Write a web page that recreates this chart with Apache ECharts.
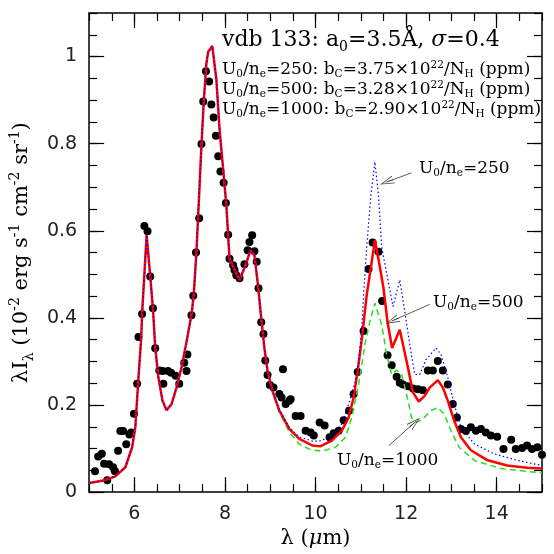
<!DOCTYPE html>
<html>
<head>
<meta charset="utf-8">
<script src="https://cdn.jsdelivr.net/npm/echarts@6/dist/echarts.min.js"></script>
<style>
  html, body { margin: 0; padding: 0; background: #fff; }
  #chart { width: 554px; height: 554px; }
</style>
</head>
<body>
<div id="chart"></div>
<script>
// observed points (wavelength in micron, intensity)
var obsX = [5.13,5.20,5.28,5.33,5.40,5.44,5.53,5.57,5.64,5.69,5.75,5.82,5.89,5.93,5.99,6.06,6.09,6.17,6.22,6.29,
  6.35,6.41,6.46,6.55,6.62,6.64,6.74,6.81,6.91,6.99,7.10,7.15,7.17,7.26,7.30,7.36,7.43,7.48,7.52,7.58,
  7.65,7.70,7.75,7.80,7.85,7.90,7.97,8.02,8.07,8.10,8.18,8.21,8.25,8.32,8.43,8.50,8.54,8.60,8.65,8.70,
  8.74,8.80,8.85,8.89,8.94,8.99,9.07,9.20,9.25,9.28,9.34,9.42,9.45,9.56,9.67,9.78,9.89,9.96,10.09,10.20,
  10.31,10.40,10.51,10.62,10.74,10.84,10.93,11.06,11.17,11.26,11.39,11.47,11.59,11.68,11.79,11.86,11.93,12.04,12.15,12.26,
  12.37,12.48,12.59,12.70,12.81,12.92,13.03,13.12,13.21,13.32,13.43,13.54,13.65,13.76,13.87,14.01,14.15,14.32,14.42,14.56,
  14.67,14.78,14.90,15.00];
var obsY = [0.048,0.082,0.088,0.065,0.027,0.064,0.057,0.048,0.095,0.140,0.140,0.110,0.132,0.137,0.180,0.249,0.356,0.409,0.611,0.599,
  0.495,0.422,0.330,0.279,0.278,0.249,0.278,0.274,0.267,0.249,0.297,0.278,0.316,0.406,0.451,0.550,0.629,0.799,0.897,0.966,
  0.943,0.890,0.860,0.818,0.771,0.736,0.710,0.664,0.591,0.536,0.521,0.510,0.498,0.491,0.523,0.555,0.574,0.590,0.553,0.529,
  0.468,0.390,0.363,0.302,0.269,0.246,0.240,0.225,0.217,0.282,0.202,0.210,0.213,0.175,0.175,0.141,0.137,0.130,0.160,0.153,
  0.126,0.135,0.141,0.165,0.187,0.225,0.276,0.370,0.512,0.573,0.552,0.439,0.314,0.291,0.265,0.251,0.247,0.243,0.238,0.236,
  0.234,0.279,0.279,0.301,0.279,0.247,0.202,0.171,0.145,0.140,0.149,0.141,0.145,0.137,0.130,0.127,0.099,0.120,0.099,0.101,
  0.107,0.099,0.103,0.086];

// model U0/ne=500 (red)
var m500X = [5.00,5.29,5.58,5.80,5.95,6.02,6.09,6.15,6.17,6.27,6.35,6.41,6.46,6.53,6.62,6.71,6.82,6.93,7.04,7.14,
  7.26,7.31,7.37,7.41,7.48,7.53,7.59,7.63,7.72,7.81,7.88,7.96,8.03,8.10,8.32,8.47,8.56,8.65,8.72,8.80,
  8.87,8.94,9.05,9.20,9.42,9.64,9.93,10.10,10.36,10.58,10.73,10.84,10.93,11.02,11.13,11.24,11.31,11.40,11.50,11.59,
  11.69,11.86,12.04,12.15,12.28,12.41,12.52,12.70,12.81,12.92,13.06,13.21,13.43,13.80,14.23,14.67,15.00];
var m500Y = [0.021,0.026,0.036,0.057,0.103,0.149,0.263,0.354,0.410,0.590,0.495,0.420,0.331,0.263,0.210,0.188,0.202,0.240,0.286,0.339,
  0.407,0.453,0.552,0.640,0.795,0.894,0.985,1.011,1.024,0.947,0.833,0.741,0.658,0.536,0.487,0.525,0.555,0.544,0.483,0.400,
  0.331,0.278,0.232,0.187,0.145,0.122,0.107,0.105,0.118,0.141,0.171,0.217,0.278,0.350,0.453,0.529,0.578,0.529,0.468,0.390,
  0.331,0.373,0.286,0.229,0.208,0.221,0.240,0.257,0.240,0.210,0.164,0.126,0.096,0.073,0.061,0.056,0.054];

// model U0/ne=250 (blue dotted)
var m250X = [5.00,5.29,5.58,5.80,5.95,6.02,6.09,6.15,6.17,6.27,6.35,6.41,6.46,6.53,6.62,6.71,6.82,6.93,7.04,7.14,
  7.26,7.31,7.37,7.41,7.48,7.53,7.59,7.63,7.72,7.81,7.88,7.96,8.03,8.10,8.32,8.47,8.56,8.65,8.72,8.80,
  8.87,8.94,9.05,9.20,9.42,9.64,9.93,10.07,10.30,10.58,10.73,10.88,10.95,11.02,11.06,11.13,11.22,11.31,11.39,11.46,
  11.59,11.71,11.86,11.97,12.08,12.19,12.30,12.44,12.66,12.77,12.92,13.06,13.21,13.50,13.94,14.45,15.00];
var m250Y = [0.021,0.026,0.036,0.057,0.103,0.149,0.263,0.354,0.410,0.590,0.495,0.420,0.331,0.263,0.210,0.188,0.202,0.240,0.286,0.339,
  0.407,0.453,0.552,0.640,0.795,0.894,0.985,1.011,1.024,0.947,0.833,0.741,0.658,0.536,0.487,0.525,0.555,0.544,0.483,0.400,
  0.331,0.278,0.233,0.190,0.148,0.127,0.117,0.117,0.125,0.156,0.202,0.255,0.300,0.377,0.453,0.563,0.680,0.758,0.680,0.563,
  0.491,0.426,0.487,0.415,0.339,0.270,0.270,0.304,0.331,0.316,0.263,0.202,0.149,0.111,0.088,0.073,0.061];

// model U0/ne=1000 (green dashed)
var m1000X = [5.00,5.29,5.58,5.80,5.95,6.02,6.09,6.15,6.17,6.27,6.35,6.41,6.46,6.53,6.62,6.71,6.82,6.93,7.04,7.14,
  7.26,7.31,7.37,7.41,7.48,7.53,7.59,7.63,7.72,7.81,7.88,7.96,8.03,8.10,8.32,8.47,8.56,8.65,8.72,8.80,
  8.87,8.94,9.05,9.20,9.42,9.64,9.90,10.15,10.44,10.66,10.80,10.95,11.09,11.20,11.31,11.46,11.57,11.68,11.79,11.90,
  12.01,12.12,12.23,12.37,12.55,12.70,12.84,12.99,13.17,13.50,14.09,15.00];
var m1000Y = [0.021,0.026,0.036,0.057,0.103,0.149,0.263,0.354,0.410,0.590,0.495,0.420,0.331,0.263,0.210,0.188,0.202,0.240,0.286,0.339,
  0.407,0.453,0.552,0.640,0.795,0.894,0.985,1.011,1.024,0.947,0.833,0.741,0.658,0.536,0.487,0.525,0.555,0.544,0.483,0.400,
  0.331,0.278,0.230,0.183,0.138,0.110,0.097,0.094,0.103,0.126,0.171,0.247,0.339,0.392,0.434,0.384,0.316,0.270,0.280,0.270,
  0.225,0.171,0.160,0.168,0.187,0.194,0.179,0.141,0.103,0.073,0.054,0.044];

// arrows: [fromX, fromY, toX, toY]
var arrow250 = [12.12, 0.733, 11.57, 0.712];
var arrow500 = [12.52, 0.431, 11.69, 0.393];
var arrow1000 = [11.62, 0.107, 12.19, 0.160];

var xMajor = [6, 8, 10, 12, 14];
var yMajor = [0, 0.2, 0.4, 0.6, 0.8, 1];

function pairs(xs, ys) {
  return xs.map(function (x, i) { return [x, ys[i]]; });
}

var serif = 'DejaVu Serif';
var sans = 'DejaVu Sans';
var annRich = {
  n: { fontFamily: serif, fontSize: 17, color: '#000', lineHeight: 20 },
  s: { fontFamily: serif, fontSize: 10.5, color: '#000', lineHeight: 20, verticalAlign: 'bottom' },
  p: { fontFamily: serif, fontSize: 10.5, color: '#000', lineHeight: 20, verticalAlign: 'top' }
};
var titleRich = {
  n: { fontFamily: serif, fontSize: 22, color: '#000', lineHeight: 28 },
  s: { fontFamily: serif, fontSize: 14, color: '#000', lineHeight: 28, verticalAlign: 'bottom' },
  i: { fontFamily: serif, fontSize: 22, color: '#000', lineHeight: 28, fontStyle: 'italic' }
};
var axRich = {
  n: { fontFamily: serif, fontSize: 21, color: '#000', lineHeight: 28 },
  s: { fontFamily: serif, fontSize: 14, color: '#000', lineHeight: 28, verticalAlign: 'bottom' },
  p: { fontFamily: serif, fontSize: 14, color: '#000', lineHeight: 28, verticalAlign: 'top' },
  i: { fontFamily: serif, fontSize: 21, color: '#000', lineHeight: 28, fontStyle: 'italic' }
};

// open arrowhead, tip at the top of the symbol box
var arrowHead = 'path://M5,0 L10,16 L9,16 L5,2.5 L5.5,16 L4.5,16 L5,2.5 L1,16 L0,16 Z';

function arrowLine(a) {
  return [{ coord: [a[0], a[1]] }, { coord: [a[2], a[3]] }];
}

var myChart = echarts.init(document.getElementById('chart'));
var tickLine = { color: '#000', width: 1.2 };
var frame = { show: true, onZero: false, lineStyle: { color: '#000', width: 1.5 } };
var noLine = { show: false, onZero: false };
var option = {
  backgroundColor: '#fff',
  animation: false,
  grid: { left: 85, right: 12, top: 13, bottom: 59 },
  xAxis: [
    {
      type: 'value', min: 5, max: 15, position: 'bottom',
      axisLine: frame,
      axisTick: { inside: true, length: 15, customValues: xMajor, lineStyle: tickLine },
      axisLabel: { customValues: xMajor, fontFamily: sans, fontSize: 19, color: '#222', margin: 12 },
      splitLine: { show: false },
      name: '{n|λ (}{i|μ}{n|m)}', nameLocation: 'middle', nameGap: 32,
      nameTextStyle: { rich: axRich }
    },
    {
      type: 'value', min: 5, max: 15, interval: 0.5, position: 'bottom',
      axisLine: noLine,
      axisTick: { inside: true, length: 8, lineStyle: tickLine },
      axisLabel: { show: false }, splitLine: { show: false }
    },
    {
      type: 'value', min: 5, max: 15, position: 'top',
      axisLine: frame,
      axisTick: { inside: true, length: 15, customValues: xMajor, lineStyle: tickLine },
      axisLabel: { show: false }, splitLine: { show: false }
    },
    {
      type: 'value', min: 5, max: 15, interval: 0.5, position: 'top',
      axisLine: noLine,
      axisTick: { inside: true, length: 8, lineStyle: tickLine },
      axisLabel: { show: false }, splitLine: { show: false }
    }
  ],
  yAxis: [
    {
      type: 'value', min: 0, max: 1.1, position: 'left',
      axisLine: frame,
      axisTick: { inside: true, length: 15, customValues: yMajor, lineStyle: tickLine },
      axisLabel: { customValues: yMajor, fontFamily: sans, fontSize: 19, color: '#222', margin: 12 },
      splitLine: { show: false },
      name: '{n|λI}{s|λ}{n| (10}{p|-2}{n| erg s}{p|-1}{n| cm}{p|-2}{n| sr}{p|-1}{n|)}',
      nameLocation: 'middle', nameGap: 49, nameRotate: 90,
      nameTextStyle: { rich: axRich }
    },
    {
      type: 'value', min: 0, max: 1.1, interval: 0.05, position: 'left',
      axisLine: noLine,
      axisTick: { inside: true, length: 8, lineStyle: tickLine },
      axisLabel: { show: false }, splitLine: { show: false }
    },
    {
      type: 'value', min: 0, max: 1.1, position: 'right',
      axisLine: frame,
      axisTick: { inside: true, length: 15, customValues: yMajor, lineStyle: tickLine },
      axisLabel: { show: false }, splitLine: { show: false }
    },
    {
      type: 'value', min: 0, max: 1.1, interval: 0.05, position: 'right',
      axisLine: noLine,
      axisTick: { inside: true, length: 8, lineStyle: tickLine },
      axisLabel: { show: false }, splitLine: { show: false }
    }
  ],
  series: [
    {
      name: 'observed', type: 'scatter', data: pairs(obsX, obsY),
      symbol: 'circle', symbolSize: 8, itemStyle: { color: '#000', opacity: 1 }, z: 2
    },
    {
      name: 'U0/ne=1000', type: 'line', data: pairs(m1000X, m1000Y), showSymbol: false,
      lineStyle: { color: '#22e022', width: 1.5, type: [6, 4] }, z: 3
    },
    {
      name: 'U0/ne=500', type: 'line', data: pairs(m500X, m500Y), showSymbol: false,
      lineStyle: { color: '#ff0000', width: 2.5 }, z: 4,
      markLine: {
        silent: true, symbol: ['none', arrowHead], symbolSize: [8, 14],
        lineStyle: { color: '#333', width: 0.8, type: 'solid' },
        itemStyle: { color: '#333' },
        label: { show: false },
        data: [arrowLine(arrow250), arrowLine(arrow500), arrowLine(arrow1000)]
      }
    },
    {
      name: 'U0/ne=250', type: 'line', data: pairs(m250X, m250Y), showSymbol: false,
      lineStyle: { color: '#0000ff', width: 1.2, type: [1.5, 2.5] }, z: 5
    }
  ],
  graphic: [
    { type: 'text', left: 222, top: 29, z: 10, style: { text: '{n|vdb 133: a}{s|0}{n|=3.5Å, }{i|σ}{n|=0.4}', rich: titleRich } },
    { type: 'text', left: 222, top: 60, z: 10, style: { text: '{n|U}{s|0}{n|/n}{s|e}{n|=250: b}{s|C}{n|=3.75×10}{p|22}{n|/N}{s|H}{n| (ppm)}', rich: annRich } },
    { type: 'text', left: 222, top: 80, z: 10, style: { text: '{n|U}{s|0}{n|/n}{s|e}{n|=500: b}{s|C}{n|=3.28×10}{p|22}{n|/N}{s|H}{n| (ppm)}', rich: annRich } },
    { type: 'text', left: 222, top: 100, z: 10, style: { text: '{n|U}{s|0}{n|/n}{s|e}{n|=1000: b}{s|C}{n|=2.90×10}{p|22}{n|/N}{s|H}{n| (ppm)}', rich: annRich } },
    { type: 'text', left: 419, top: 160, z: 10, style: { text: '{n|U}{s|0}{n|/n}{s|e}{n|=250}', rich: annRich } },
    { type: 'text', left: 433, top: 294, z: 10, style: { text: '{n|U}{s|0}{n|/n}{s|e}{n|=500}', rich: annRich } },
    { type: 'text', left: 337, top: 452, z: 10, style: { text: '{n|U}{s|0}{n|/n}{s|e}{n|=1000}', rich: annRich } }
  ]
};
myChart.setOption(option);
</script>
</body>
</html>
